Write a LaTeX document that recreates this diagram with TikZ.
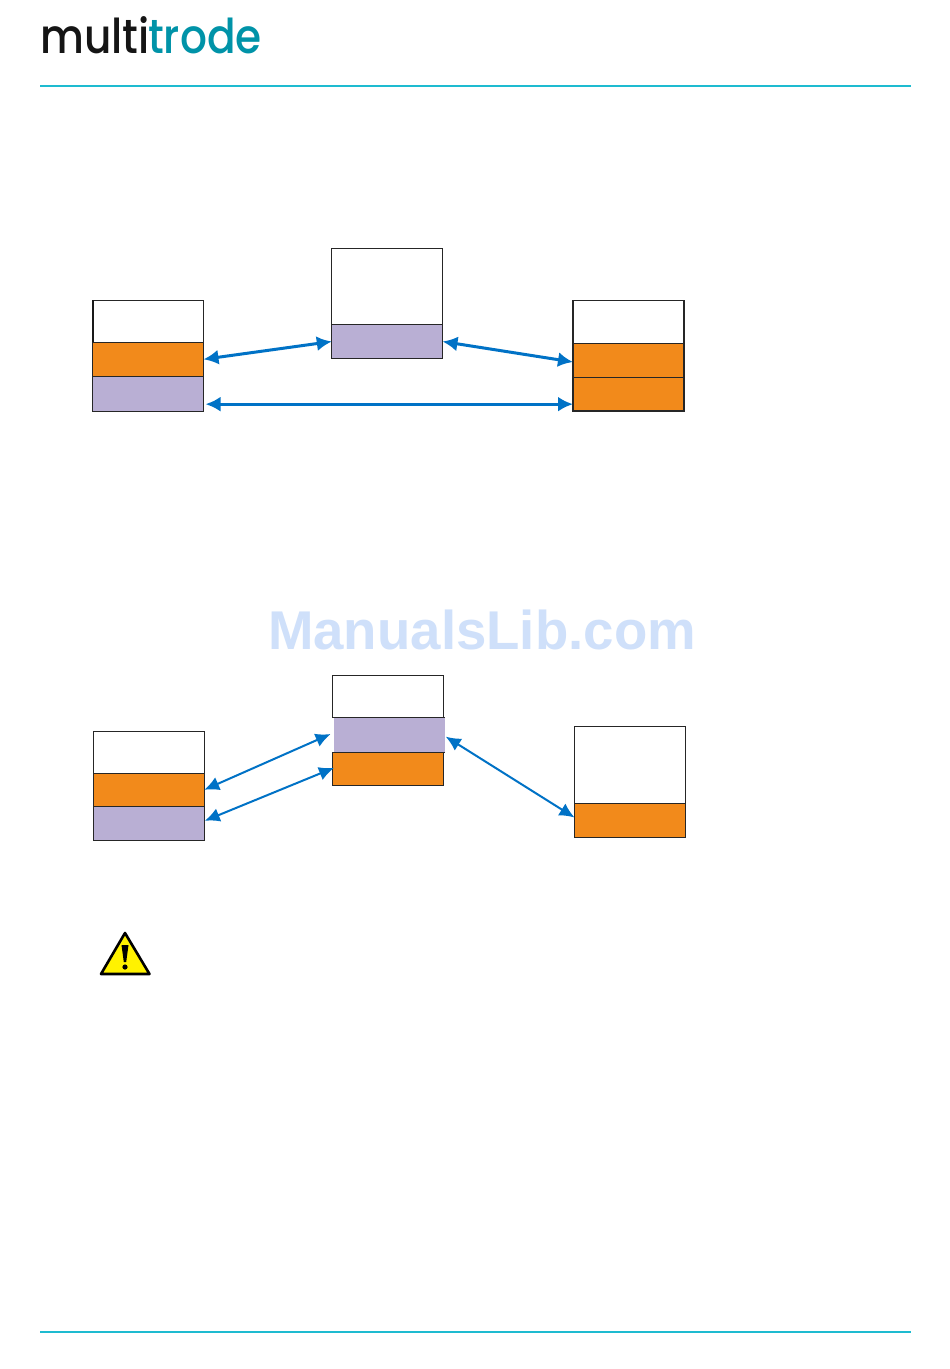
\documentclass[tikz,border=0pt]{standalone}
\usepackage{fontspec}
\setmainfont{Liberation Sans}
\newfontfamily\logofont{Poppins}[UprightFont=* Medium]
\usetikzlibrary{arrows.meta,calc}
\definecolor{orangebox}{HTML}{F28A1B}
\definecolor{lilacbox}{HTML}{B9AFD4}
\definecolor{arrowblue}{HTML}{0072C6}
\definecolor{ruleteal}{HTML}{1EBBD0}
\definecolor{logoteal}{HTML}{0093A8}
\definecolor{logoblack}{HTML}{151515}
\definecolor{watermark}{HTML}{CFE0FA}
\definecolor{warnyellow}{HTML}{FFF200}
\tikzset{
  cell/.style={draw=black!85,line width=0.9pt,inner sep=0pt,outer sep=0pt,minimum width=110.7pt,anchor=north west},
  white cell/.style={cell,fill=white},
  orange cell/.style={cell,fill=orangebox},
  lilac cell/.style={cell,fill=lilacbox},
  heavy/.style={line width=1.7pt},
  link/.style={arrowblue,line width=3pt,{Latex[length=15pt,width=15pt]}-{Latex[length=15pt,width=15pt]}},
  thin link/.style={arrowblue,line width=2pt,{Latex[length=15pt,width=14pt]}-{Latex[length=15pt,width=14pt]}},
  page rule/.style={ruleteal,line width=2pt},
  logo text/.style={inner sep=0pt,anchor=base west,font=\logofont\fontsize{48}{48}\selectfont,xscale=0.88,transform shape},
}
\begin{document}
\begin{tikzpicture}[x=1pt,y=-1pt]
\useasboundingbox (0,0) rectangle (950,1369);
\fill[white] (0,0) rectangle (950,1369);
% header
\node[logo text,text=logoblack] (logoa) at (40,53) {multi};
\node[logo text,text=logoteal] (logob) at (148,53) {trode};
\coordinate (ta) at (40,85.5); \coordinate (tb) at (911,85.5);
\coordinate (ba) at (40,1331.5); \coordinate (bb) at (911,1331.5);
\draw[page rule] (ta) -- (tb);
\draw[page rule] (ba) -- (bb);
% upper diagram
\node[white cell,minimum height=42pt] (a1) at (92.8,300.3) {};
\node[orange cell,minimum height=34pt] (a2) at (92.8,342.3) {};
\node[lilac cell,minimum height=34.7pt] (a3) at (92.8,376.3) {};
\draw[black!90,line width=2pt] ([xshift=0.6pt]a1.north west) -- ([xshift=0.6pt]a1.south west);
\node[white cell,minimum height=76pt] (b1) at (331.8,248.2) {};
\node[lilac cell,minimum height=34.6pt] (b2) at (331.8,324.2) {};
\node[white cell,heavy,minimum height=43pt] (c1) at (573,300.5) {};
\node[orange cell,heavy,minimum height=34pt] (c2) at (573,343.5) {};
\node[orange cell,heavy,minimum height=33.5pt] (c3) at (573,377.5) {};
\draw[link] (a2.east) -- (b2.west);
\draw[link] (b2.east) -- ([yshift=-1.5pt]c2.west);
\draw[link] ([xshift=2pt,yshift=-10.5pt]a3.east) -- ([yshift=-10.5pt]c3.west |- a3.east);
% lower diagram
\node[white cell,minimum height=42pt] (d1) at (93.5,731.3) {};
\node[orange cell,minimum height=33pt] (d2) at (93.5,773.3) {};
\node[lilac cell,minimum height=34pt] (d3) at (93.5,806.3) {};
\node[white cell,minimum height=42pt] (e1) at (332.4,675.3) {};
\node[inner sep=0pt,outer sep=0pt,anchor=north west,fill=lilacbox,minimum width=111pt,minimum height=35pt] (e2) at (334,717.3) {};
\draw[black!85,line width=0.9pt] (e2.north west) -- (e2.north east);
\draw[black!85,line width=0.9pt] (e2.south west) -- (e2.south east);
\node[orange cell,minimum height=33pt] (e3) at (332.4,752.3) {};
\node[white cell,minimum height=77pt] (f1) at (574.5,726.5) {};
\node[orange cell,minimum height=34pt] (f2) at (574.5,803.5) {};
\draw[thin link] (d2.east) -- ([xshift=-3.4pt,yshift=0.8pt]e2.west);
\draw[thin link] ([xshift=0.5pt,yshift=2.5pt]d3.east) -- ([xshift=1.6pt,yshift=1pt]e3.west);
\draw[thin link] ([xshift=0.7pt,yshift=-1.8pt]e2.east) -- ([yshift=3pt]f2.west);
% watermark
\node[inner sep=0pt,anchor=base,font=\bfseries\fontsize{54.6}{56}\selectfont,text=watermark] (wm) at (482,649) {ManualsLib.com};
% warning icon
\filldraw[fill=warnyellow,draw=black,line width=2.6pt,line join=round] (125,933) -- (149.5,974) -- (101,974) -- cycle;
\fill[black] (121.5,945) -- (128.5,945) -- (126.2,962) -- (123.8,962) -- cycle;
\fill[black] (125,967) circle (2.6pt);
\end{tikzpicture}
\end{document}
